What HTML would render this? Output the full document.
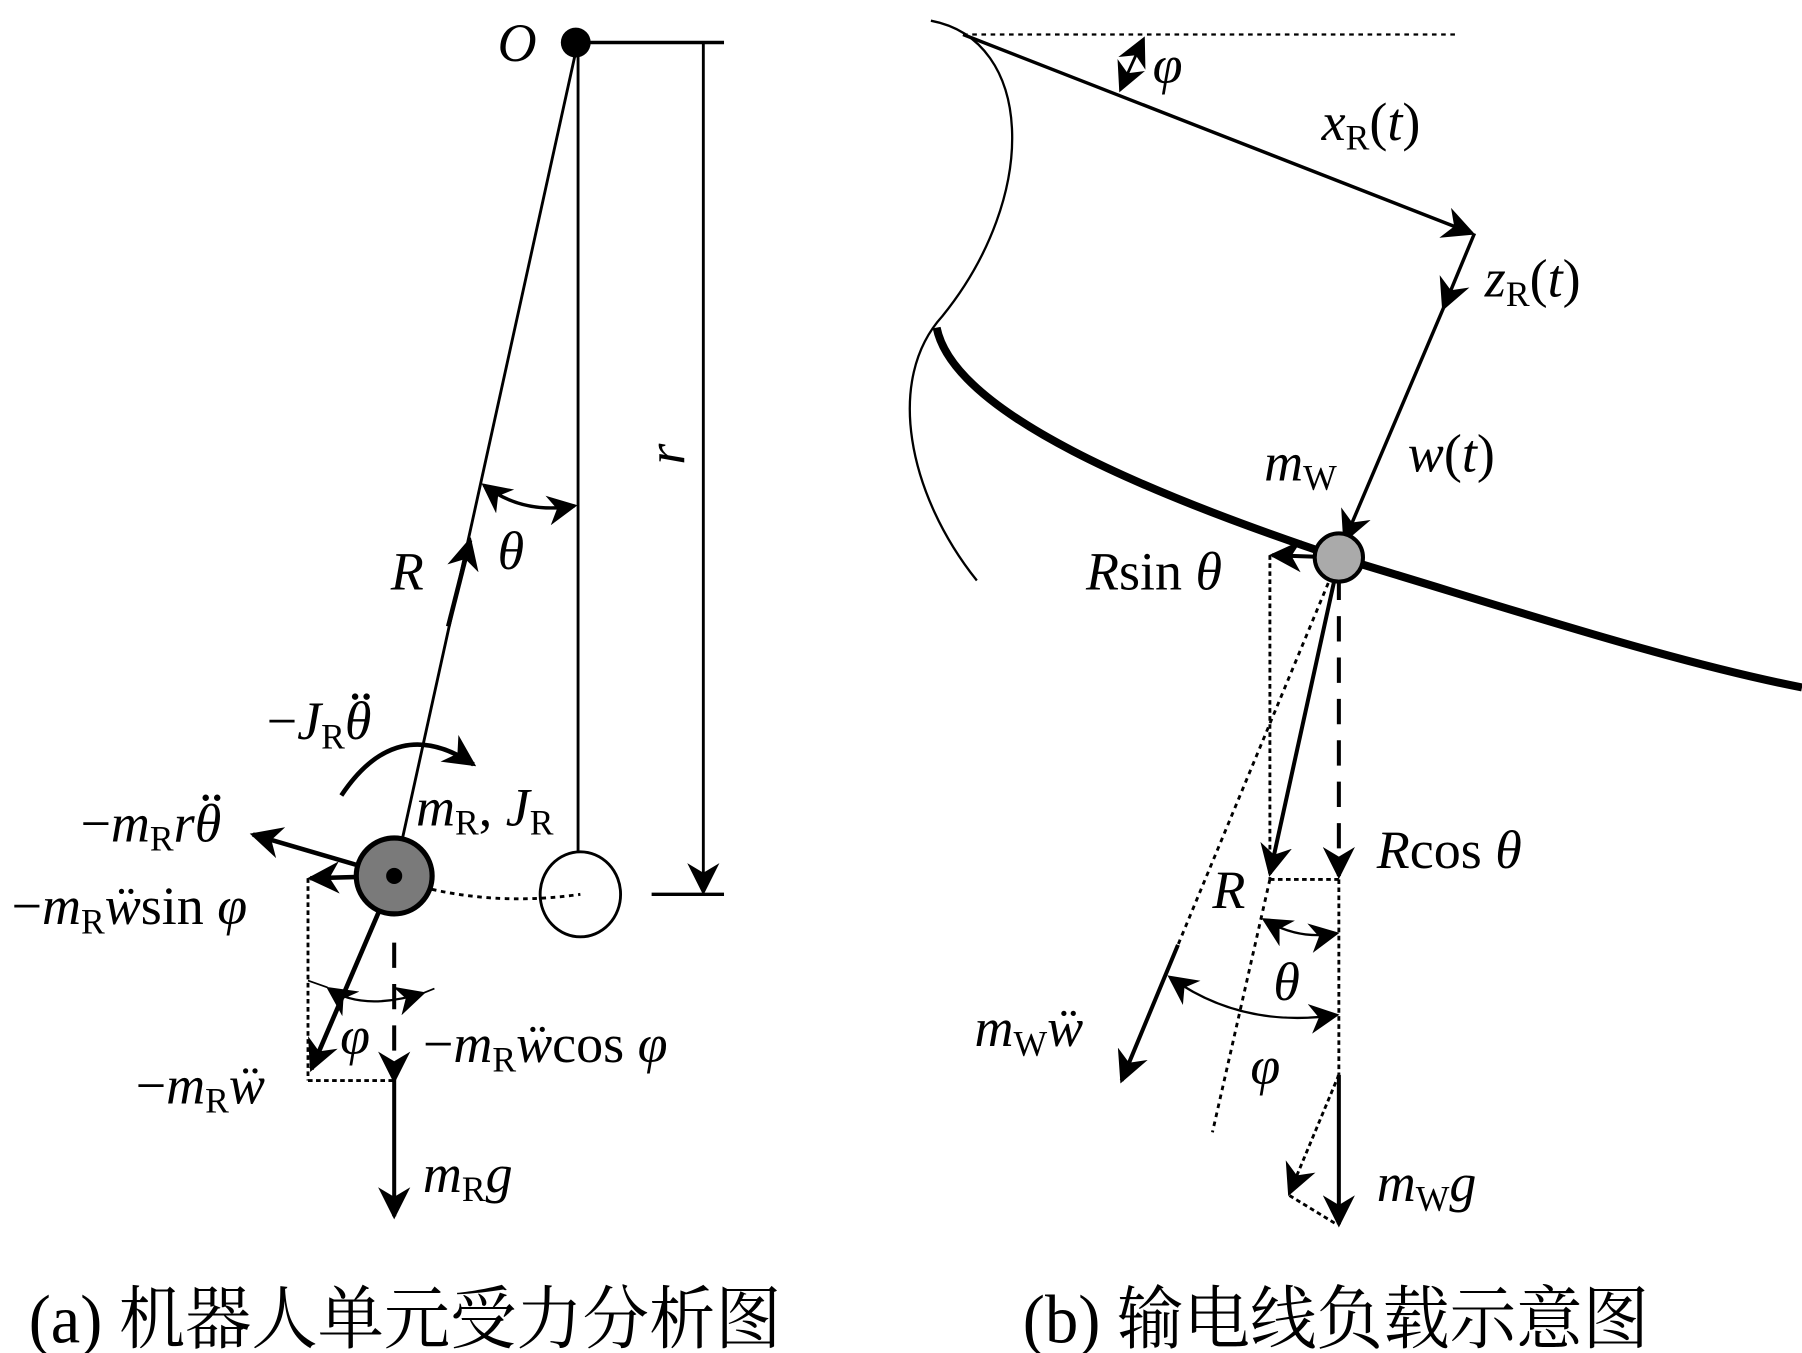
<!DOCTYPE html>
<html><head><meta charset="utf-8"><style>
html,body{margin:0;padding:0;background:#fff;}
svg{display:block;}
text{font-family:"Liberation Serif","Noto Serif CJK SC",serif;fill:#000;}
.i{font-style:italic;}
</style></head><body>
<svg width="1802" height="1353" viewBox="0 0 1568 1177" preserveAspectRatio="none" xmlns="http://www.w3.org/2000/svg">
<defs>
<marker id="A" viewBox="0 0 10 10" refX="9" refY="5" markerWidth="28" markerHeight="28" markerUnits="userSpaceOnUse" orient="auto"><path d="M0,0 L10,5 L0,10 L3,5 z"/></marker>
<marker id="As" viewBox="0 0 10 10" refX="9" refY="5" markerWidth="26" markerHeight="26" markerUnits="userSpaceOnUse" orient="auto"><path d="M0,0 L10,5 L0,10 L3,5 z"/></marker>
<marker id="As0" viewBox="0 0 10 10" refX="9" refY="5" markerWidth="26" markerHeight="26" markerUnits="userSpaceOnUse" orient="auto-start-reverse"><path d="M0,0 L10,5 L0,10 L3,5 z"/></marker>
</defs>
<g stroke="#000" fill="none">
<!-- LEFT PANEL -->
<line x1="501" y1="37" x2="630" y2="37" stroke-width="3"/>
<line x1="612" y1="37" x2="612" y2="776" stroke-width="2.5" marker-end="url(#A)"/>
<line x1="567" y1="778" x2="630" y2="778" stroke-width="3"/>
<line x1="503" y1="37" x2="503" y2="742" stroke-width="2.5"/>
<ellipse cx="505" cy="778" rx="35" ry="37" stroke-width="2.5" fill="#fff"/>
<line x1="501" y1="45" x2="343" y2="762" stroke-width="2.5"/>
<line x1="390" y1="545" x2="409" y2="470" stroke-width="4" marker-end="url(#A)"/>
<path d="M421,422 Q455,448 500,440" stroke-width="3" marker-start="url(#As0)" marker-end="url(#As)"/>
<path d="M297,692 Q345,620 412,665" stroke-width="4" marker-end="url(#A)"/>
<path d="M345,765 Q420,790 505,778" stroke-width="2.5" stroke-dasharray="4,4"/>
<line x1="343" y1="762" x2="220" y2="726" stroke-width="4" marker-end="url(#A)"/>
<line x1="343" y1="762" x2="270" y2="764" stroke-width="4" marker-end="url(#A)"/>
<line x1="268" y1="764" x2="268" y2="940" stroke-width="2.5" stroke-dasharray="4,3"/>
<line x1="268" y1="940" x2="343" y2="940" stroke-width="2.5" stroke-dasharray="4,3"/>
<line x1="343" y1="762" x2="271" y2="930" stroke-width="4" marker-end="url(#A)"/>
<line x1="343" y1="820" x2="343" y2="940" stroke-width="3.5" stroke-dasharray="22,14" marker-end="url(#A)"/>
<line x1="343" y1="940" x2="343" y2="1058" stroke-width="3.5" marker-end="url(#A)"/>
<path d="M286,860 Q315,880 368,864" stroke-width="2" marker-start="url(#As0)" marker-end="url(#As)"/>
<line x1="268" y1="853" x2="285" y2="859" stroke-width="1.5"/>
<line x1="368" y1="864" x2="378" y2="860" stroke-width="1.5"/>
<circle cx="343" cy="762" r="33" fill="#7a7a7a" stroke-width="4.5"/>
<circle cx="343" cy="762" r="7" fill="#000" stroke="none"/>
<circle cx="501" cy="37" r="13" fill="#000" stroke="none"/>

<!-- RIGHT PANEL -->
<line x1="838" y1="30" x2="1268" y2="30" stroke-width="2" stroke-dasharray="4,4"/>
<path d="M810,18 C900,35 905,170 820,275 C770,330 790,430 850,505" stroke-width="2"/>
<path d="M815,285 C830,360 1000,430 1165,485 C1300,525 1450,575 1568,598" stroke-width="7"/>
<line x1="838" y1="30" x2="1281" y2="203" stroke-width="3" marker-end="url(#A)"/>
<path d="M995,34 Q985,55 975,78" stroke-width="2.5" marker-start="url(#As0)" marker-end="url(#As)"/>
<line x1="1283" y1="203" x2="1256" y2="268" stroke-width="3" marker-end="url(#A)"/>
<line x1="1256" y1="268" x2="1170" y2="470" stroke-width="3" marker-end="url(#A)"/>
<line x1="1105" y1="483" x2="1105" y2="765" stroke-width="2.5" stroke-dasharray="4,3"/>
<line x1="1165" y1="485" x2="1025" y2="822" stroke-width="2.5" stroke-dasharray="4,4"/>
<line x1="1025" y1="822" x2="976" y2="940" stroke-width="3.5" marker-end="url(#A)"/>
<line x1="1165" y1="487" x2="1105" y2="760" stroke-width="3.5" marker-end="url(#A)"/>
<line x1="1165" y1="500" x2="1165" y2="762" stroke-width="3.5" stroke-dasharray="22,14" marker-end="url(#A)"/>
<line x1="1105" y1="765" x2="1165" y2="765" stroke-width="2.5" stroke-dasharray="4,3"/>
<line x1="1165" y1="765" x2="1165" y2="935" stroke-width="2.5" stroke-dasharray="4,3"/>
<line x1="1105" y1="765" x2="1055" y2="985" stroke-width="2.5" stroke-dasharray="4,4"/>
<path d="M1100,800 Q1130,818 1163,812" stroke-width="2" marker-start="url(#As0)" marker-end="url(#As)"/>
<path d="M1018,850 Q1080,895 1163,883" stroke-width="2" marker-start="url(#As0)" marker-end="url(#As)"/>
<line x1="1165" y1="935" x2="1165" y2="1065" stroke-width="3.5" marker-end="url(#A)"/>
<line x1="1165" y1="935" x2="1122" y2="1038" stroke-width="2.5" stroke-dasharray="4,3" marker-end="url(#A)"/>
<line x1="1122" y1="1040" x2="1163" y2="1065" stroke-width="2.5" stroke-dasharray="4,3"/>
<line x1="1165" y1="485" x2="1107" y2="483" stroke-width="3.5" marker-end="url(#A)"/>
<circle cx="1165" cy="485" r="21" fill="#aaa" stroke-width="3.5"/>
</g>

<!-- labels left -->
<g font-size="47">
<text x="433" y="53" class="i">O</text>
<text x="595" y="395" class="i" transform="rotate(-90 595 395)" text-anchor="middle">r</text>
<text x="340" y="513" class="i">R</text>
<text x="433" y="495" class="i">θ</text>
<text x="232" y="643">−<tspan class="i">J</tspan><tspan font-size="31" dy="8">R</tspan><tspan class="i" dy="-8">θ</tspan></text>
<text x="362" y="718"><tspan class="i">m</tspan><tspan font-size="31" dy="8">R</tspan><tspan dy="-8">, </tspan><tspan class="i">J</tspan><tspan font-size="31" dy="8">R</tspan></text>
<text x="70" y="732">−<tspan class="i">m</tspan><tspan font-size="31" dy="8">R</tspan><tspan class="i" dy="-8">rθ</tspan></text>
<text x="10" y="804">−<tspan class="i">m</tspan><tspan font-size="31" dy="8">R</tspan><tspan class="i" dy="-8">ẅ</tspan>sin <tspan class="i">φ</tspan></text>
<text x="296" y="917" class="i">φ</text>
<text x="368" y="924">−<tspan class="i">m</tspan><tspan font-size="31" dy="8">R</tspan><tspan class="i" dy="-8">ẅ</tspan>cos <tspan class="i">φ</tspan></text>
<text x="118" y="960">−<tspan class="i">m</tspan><tspan font-size="31" dy="8">R</tspan><tspan class="i" dy="-8">ẅ</tspan></text>
<text x="368" y="1037"><tspan class="i">m</tspan><tspan font-size="31" dy="8">R</tspan><tspan class="i" dy="-8">g</tspan></text>
</g>
<g fill="#000">
<circle cx="309" cy="606" r="2.8"/><circle cx="319" cy="606" r="2.8"/>
<circle cx="179" cy="694" r="2.8"/><circle cx="189" cy="694" r="2.8"/>
</g>
<!-- labels right -->
<g font-size="47">
<text x="1003" y="72" class="i">φ</text>
<text x="1150" y="122"><tspan class="i">x</tspan><tspan font-size="31" dy="8">R</tspan><tspan dy="-8">(</tspan><tspan class="i">t</tspan>)</text>
<text x="1292" y="258"><tspan class="i">z</tspan><tspan font-size="31" dy="8">R</tspan><tspan dy="-8">(</tspan><tspan class="i">t</tspan>)</text>
<text x="1225" y="410"><tspan class="i">w</tspan>(<tspan class="i">t</tspan>)</text>
<text x="1100" y="418"><tspan class="i">m</tspan><tspan font-size="31" dy="8">W</tspan></text>
<text x="945" y="513"><tspan class="i">R</tspan>sin <tspan class="i">θ</tspan></text>
<text x="1198" y="755"><tspan class="i">R</tspan>cos <tspan class="i">θ</tspan></text>
<text x="1055" y="790" class="i">R</text>
<text x="1108" y="870" class="i">θ</text>
<text x="1088" y="943" class="i">φ</text>
<text x="848" y="910"><tspan class="i">m</tspan><tspan font-size="31" dy="8">W</tspan><tspan class="i" dy="-8">ẅ</tspan></text>
<text x="1198" y="1045"><tspan class="i">m</tspan><tspan font-size="31" dy="8">W</tspan><tspan class="i" dy="-8">g</tspan></text>
</g>
<!-- captions -->
<text x="25" y="1168" font-size="60" textLength="655" lengthAdjust="spacingAndGlyphs">(a) 机器人单元受力分析图</text>
<text x="890" y="1168" font-size="60" textLength="545" lengthAdjust="spacingAndGlyphs">(b) 输电线负载示意图</text>
</svg>
</body></html>
